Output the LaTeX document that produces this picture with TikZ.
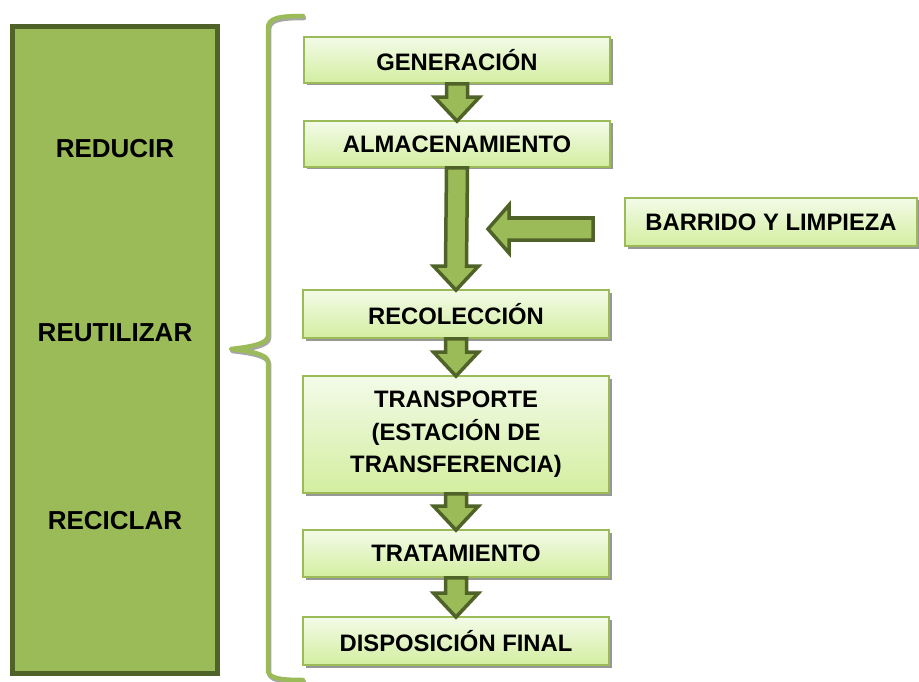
\documentclass[tikz,border=0pt]{standalone}
\usepackage{fontspec}
\setmainfont{Liberation Sans}
\usetikzlibrary{shadows,calc}
\definecolor{lgreen}{HTML}{9BBB59}
\definecolor{dgreen}{HTML}{4F6228}
\definecolor{boxtop}{HTML}{F3FBE8}
\definecolor{boxbot}{HTML}{D3EEA0}
\tikzset{
  stepbox/.style={draw=lgreen, line width=1.8pt, top color=boxtop, bottom color=boxbot,
    minimum width=306pt, inner sep=0pt, align=center,
    font=\bfseries\fontsize{23.8}{32.5}\selectfont,
    drop shadow={shadow xshift=2.5pt, shadow yshift=-2.5pt, fill=black!45, opacity=0.9}},
  sidebox/.style={draw=dgreen, fill=lgreen, line width=5pt, minimum width=205pt, minimum height=647pt, inner sep=0pt},
  sidetext/.style={font=\bfseries\fontsize{26}{30}\selectfont, inner sep=0pt},
  blockarrow/.style={draw=dgreen, fill=lgreen, line width=3.5pt, line join=miter},
  bracestyle/.style={draw=lgreen, line width=4.5pt, line cap=round, line join=round},
  braceshadow/.style={draw=black!35, line width=4.5pt, line cap=round, line join=round}
}
\newcommand{\blockdown}[2]{%
  \draw[blockarrow] ([xshift=-10.5pt]#1.south) -- ([xshift=-10.5pt,yshift=23pt]#2.north)
    -- ([xshift=-22.5pt,yshift=23pt]#2.north) -- ([yshift=-1pt]#2.north)
    -- ([xshift=22.5pt,yshift=23pt]#2.north) -- ([xshift=10.5pt,yshift=23pt]#2.north)
    -- ([xshift=10.5pt]#1.south) -- cycle;}
\begin{document}
\begin{tikzpicture}[x=1pt,y=-1pt]
\useasboundingbox (0,0) rectangle (919,682);
% left column
\node[sidebox] (side) at (115,350) {};
\node[sidetext] (reducir) at (115,149) {REDUCIR};
\node[sidetext] (reutilizar) at (115,333) {REUTILIZAR};
\node[sidetext] (reciclar) at (115,521) {RECICLAR};
% brace
\draw[braceshadow] (304,18) .. controls (280,18) and (269,20) .. (269,30) -- (269,338)
  .. controls (269,346) and (250,349) .. (232,351) .. controls (250,353) and (269,356) .. (269,364)
  -- (269,672) .. controls (269,680) and (280,682) .. (304,682);
\draw[bracestyle] (303,16) .. controls (279,16) and (268,18) .. (268,28) -- (268,336)
  .. controls (268,344) and (249,347) .. (231,349) .. controls (249,351) and (268,354) .. (268,362)
  -- (268,670) .. controls (268,678) and (279,680) .. (303,680);
% process boxes
\node[stepbox, minimum height=46pt] (gen) at (457,60) {GENERACIÓN};
\node[stepbox, minimum height=46pt] (alm) at (457,144) {ALMACENAMIENTO};
\node[stepbox, minimum height=48pt] (rec) at (456,314) {RECOLECCIÓN};
\node[stepbox, minimum height=117pt] (tra) at (456,434.5) {TRANSPORTE\\(ESTACIÓN DE\\TRANSFERENCIA)};
\node[stepbox, minimum height=47pt] (trat) at (456,553.5) {TRATAMIENTO};
\node[stepbox, minimum height=48pt] (disp) at (456,641) {DISPOSICIÓN FINAL};
\node[stepbox, minimum width=292pt, minimum height=48pt] (bar) at (771,222) {BARRIDO Y LIMPIEZA};
% arrows
\blockdown{gen}{alm}
\blockdown{alm}{rec}
\blockdown{rec}{tra}
\blockdown{tra}{trat}
\blockdown{trat}{disp}
\coordinate (bt) at (593,229);
\coordinate (bh) at (488,229);
\draw[blockarrow] ([yshift=11pt]bt) -- ([xshift=21pt,yshift=11pt]bh) -- ([xshift=21pt,yshift=24pt]bh)
  -- (bh) -- ([xshift=21pt,yshift=-24pt]bh) -- ([xshift=21pt,yshift=-11pt]bh)
  -- ([yshift=-11pt]bt) -- cycle;
\end{tikzpicture}
\end{document}
